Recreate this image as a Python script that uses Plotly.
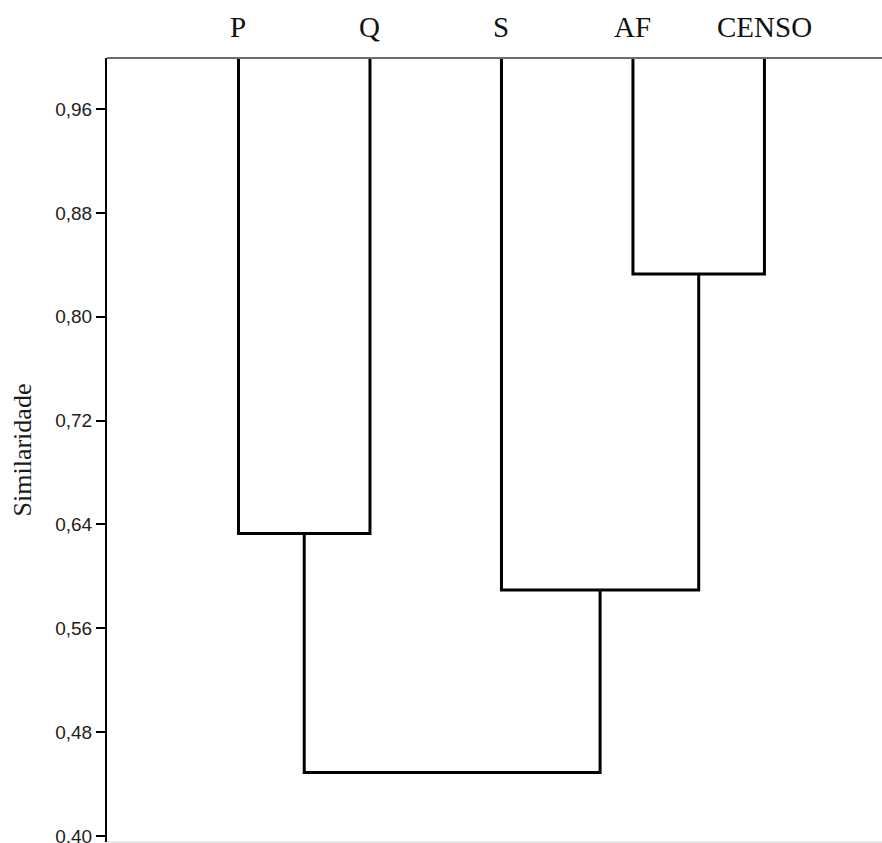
import plotly.graph_objects as go

# Data
leaves = ["P", "Q", "S", "AF", "CENSO"]
leaf_height = 1.0
# merges: (left member, right member, similarity)
merge_left = ["P", "AF", "S", "C1"]
merge_right = ["Q", "CENSO", "C2", "C3"]
merge_sim = [0.633, 0.833, 0.5895, 0.449]
merge_names = ["C1", "C2", "C3", "C4"]
ytick_vals = [0.40, 0.48, 0.56, 0.64, 0.72, 0.80, 0.88, 0.96]
ytick_text = ["0,40", "0,48", "0,56", "0,64", "0,72", "0,80", "0,88", "0,96"]

pos = {name: i + 1 for i, name in enumerate(leaves)}
height = {name: leaf_height for name in leaves}

fig = go.Figure()
for l, r, h, n in zip(merge_left, merge_right, merge_sim, merge_names):
    xl, xr = pos[l], pos[r]
    fig.add_trace(go.Scatter(
        x=[xl, xl, xr, xr], y=[height[l], h, h, height[r]],
        mode="lines", line=dict(color="black", width=3),
        hoverinfo="skip", showlegend=False))
    pos[n] = (xl + xr) / 2
    height[n] = h

for name in leaves:
    fig.add_annotation(x=pos[name], y=1, yref="paper", text=name,
                       showarrow=False, yanchor="middle", yshift=31,
                       font=dict(family="Liberation Serif", size=29, color="#111"))

fig.add_shape(type="line", xref="paper", yref="paper", x0=0, x1=1, y0=1, y1=1,
              line=dict(color="#6e6e6e", width=2))
fig.add_shape(type="line", xref="paper", yref="paper", x0=0, x1=1, y0=0, y1=0,
              line=dict(color="#cfcfcf", width=1))

fig.update_layout(
    width=882, height=843,
    margin=dict(l=107, r=0, t=58, b=1, autoexpand=False),
    plot_bgcolor="white", paper_bgcolor="white",
    xaxis=dict(range=[0, 5.894], showticklabels=False, showgrid=False,
               zeroline=False, showline=False, ticks="", automargin=False),
    yaxis=dict(range=[0.3954, 0.9993], tickvals=ytick_vals, ticktext=ytick_text,
               showgrid=False, zeroline=False, showline=True, linecolor="black",
               linewidth=2, ticks="outside", ticklen=9, tickwidth=1.5,
               tickcolor="black", ticklabeloverflow="allow", automargin=False,
               tickfont=dict(family="Liberation Sans", size=19, color="#222"),
               title=dict(text="Similaridade", standoff=16,
                          font=dict(family="Liberation Serif", size=26, color="#1a1a1a"))),
)

fig.write_html("out.html", config={"displayModeBar": False},
               post_script="document.body.style.margin='0';document.body.style.overflow='hidden';")
